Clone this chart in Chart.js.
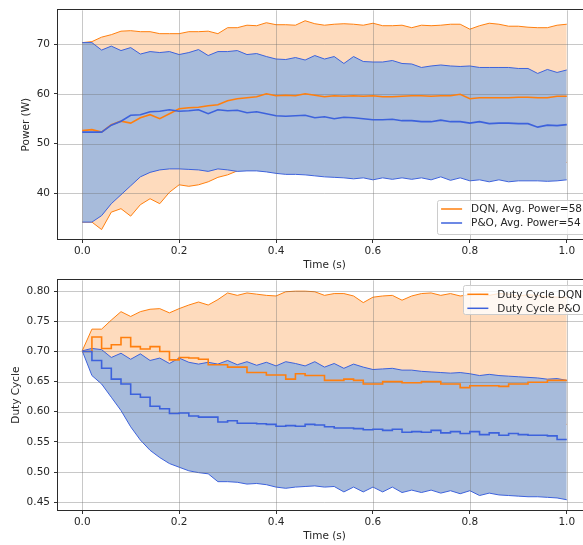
<!DOCTYPE html>
<html>
<head>
<meta charset="utf-8">
<script src="https://cdn.jsdelivr.net/npm/chart.js@4.4.1/dist/chart.umd.min.js"></script>
<style>
  html, body { margin: 0; padding: 0; overflow: hidden; background: #fff; }
  #wrap { position: relative; width: 583px; height: 545px; overflow: hidden; }
  #powerChart { position: absolute; left: 0; top: 0; }
  #dutyChart { position: absolute; left: 0; top: 270px; }
</style>
</head>
<body>
<div id="wrap">
  <canvas id="powerChart" width="600" height="276"></canvas>
  <canvas id="dutyChart" width="600" height="275"></canvas>
</div>
<script>
// time axis (s), one sample every 0.02 s
const time = [0.00, 0.02, 0.04, 0.06, 0.08, 0.10, 0.12, 0.14, 0.16, 0.18,
              0.20, 0.22, 0.24, 0.26, 0.28, 0.30, 0.32, 0.34, 0.36, 0.38,
              0.40, 0.42, 0.44, 0.46, 0.48, 0.50, 0.52, 0.54, 0.56, 0.58,
              0.60, 0.62, 0.64, 0.66, 0.68, 0.70, 0.72, 0.74, 0.76, 0.78,
              0.80, 0.82, 0.84, 0.86, 0.88, 0.90, 0.92, 0.94, 0.96, 0.98, 1.00];

// tick labels
const timeTicks = [0.0, 0.2, 0.4, 0.6, 0.8, 1.0];
const powerTicks = [40, 50, 60, 70];
const dutyTicks = [0.45, 0.50, 0.55, 0.60, 0.65, 0.70, 0.75, 0.80];

// legend labels
const powerLabels = ['DQN, Avg. Power=58', 'P&O, Avg. Power=54'];
const dutyLabels = ['Duty Cycle DQN', 'Duty Cycle P&O'];

// Power (W) - DQN
const dqnPowerMean = [52.6, 52.8, 52.3, 53.8, 54.5, 54.1, 55.2, 55.8, 55.0, 56.0,
                      57.0, 57.2, 57.3, 57.6, 57.8, 58.6, 59.0, 59.2, 59.4, 60.0,
                      59.6, 59.7, 59.6, 60.0, 59.7, 59.4, 59.6, 59.5, 59.6, 59.5,
                      59.6, 59.4, 59.4, 59.5, 59.6, 59.6, 59.5, 59.6, 59.6, 59.9,
                      59.0, 59.2, 59.2, 59.2, 59.2, 59.3, 59.3, 59.2, 59.2, 59.5, 59.5];
const dqnPowerUpper = [70.3, 70.5, 71.4, 71.9, 72.6, 72.7, 72.5, 72.5, 72.1, 72.1,
                       72.1, 72.5, 72.5, 72.6, 72.1, 73.3, 73.3, 73.8, 73.7, 74.3,
                       73.9, 73.9, 73.8, 74.7, 74.1, 73.8, 74.0, 74.1, 74.0, 73.8,
                       74.2, 73.7, 73.7, 73.8, 73.3, 73.8, 73.7, 73.8, 74.0, 74.0,
                       73.0, 73.7, 74.2, 74.0, 73.6, 73.6, 73.4, 73.3, 73.3, 73.8, 74.0];
const dqnPowerLower = [34.2, 34.2, 32.7, 36.2, 36.9, 35.4, 37.7, 38.9, 37.9, 40.2,
                       41.7, 41.4, 41.7, 42.3, 43.2, 43.7, 44.5, 45.0, 45.3, 45.6,
                       45.8, 46.0, 45.9, 46.1, 46.0, 46.2, 46.1, 46.3, 46.2, 46.0,
                       46.1, 46.3, 46.2, 46.0, 46.1, 46.2, 46.0, 46.1, 46.3, 46.2,
                       46.0, 46.1, 46.2, 46.0, 46.1, 46.0, 46.2, 46.1, 46.0, 46.1, 46.2];

// Power (W) - P&O
const poPowerMean = [52.3, 52.3, 52.3, 53.7, 54.5, 55.7, 55.8, 56.4, 56.5, 56.8,
                     56.5, 56.6, 56.8, 56.0, 56.8, 56.6, 56.7, 56.2, 56.4, 56.0,
                     55.6, 55.5, 55.6, 55.7, 55.2, 55.4, 55.0, 55.3, 55.2, 55.0,
                     54.8, 54.8, 54.9, 54.6, 54.6, 54.4, 54.4, 54.7, 54.4, 54.4,
                     54.1, 54.4, 54.0, 54.1, 54.1, 54.0, 54.0, 53.3, 53.7, 53.6, 53.8];
const poPowerUpper = [70.3, 70.3, 68.8, 69.6, 68.7, 69.3, 68.0, 68.5, 68.3, 68.5,
                      67.9, 68.3, 68.9, 67.7, 68.5, 68.5, 68.7, 67.9, 68.1, 67.5,
                      67.0, 66.9, 67.3, 66.8, 67.7, 67.0, 67.5, 66.1, 67.5, 66.5,
                      66.4, 66.4, 66.7, 66.1, 66.0, 65.3, 65.6, 65.8, 65.6, 65.5,
                      65.6, 65.3, 65.3, 65.3, 65.3, 65.1, 65.1, 64.1, 64.9, 64.3, 64.8];
const poPowerLower = [34.2, 34.2, 35.5, 37.9, 39.7, 41.5, 43.3, 44.2, 44.7, 44.9,
                      44.9, 44.8, 44.7, 44.4, 44.9, 44.7, 44.4, 44.5, 44.5, 44.3,
                      44.0, 43.8, 43.8, 43.7, 43.5, 43.3, 43.2, 43.1, 42.9, 43.1,
                      42.7, 43.1, 42.8, 43.1, 42.8, 43.1, 42.7, 43.3, 42.6, 43.1,
                      42.5, 42.7, 42.3, 42.7, 42.3, 42.5, 42.5, 42.5, 42.4, 42.5, 42.7];

// Duty cycle - DQN (mean is a step line)
const dqnDutyMean = [0.700, 0.724, 0.705, 0.711, 0.723, 0.708, 0.704, 0.708, 0.700, 0.686,
                     0.690, 0.689, 0.687, 0.678, 0.678, 0.674, 0.674, 0.665, 0.665, 0.661,
                     0.661, 0.654, 0.663, 0.660, 0.660, 0.652, 0.652, 0.654, 0.652, 0.646,
                     0.646, 0.650, 0.650, 0.648, 0.648, 0.650, 0.650, 0.646, 0.646, 0.640,
                     0.643, 0.643, 0.643, 0.642, 0.646, 0.646, 0.649, 0.649, 0.652, 0.652, 0.652];
const dqnDutyUpper = [0.701, 0.737, 0.737, 0.752, 0.766, 0.758, 0.766, 0.770, 0.771, 0.764,
                      0.771, 0.777, 0.782, 0.777, 0.786, 0.797, 0.793, 0.797, 0.795, 0.793,
                      0.792, 0.799, 0.800, 0.800, 0.799, 0.793, 0.796, 0.796, 0.792, 0.781,
                      0.790, 0.792, 0.793, 0.785, 0.792, 0.796, 0.797, 0.793, 0.796, 0.792,
                      0.794, 0.795, 0.793, 0.796, 0.795, 0.792, 0.794, 0.793, 0.791, 0.790, 0.789];
const dqnDutyLower = [0.700, 0.690, 0.678, 0.668, 0.660, 0.652, 0.645, 0.638, 0.632, 0.627,
                      0.622, 0.618, 0.614, 0.611, 0.608, 0.605, 0.603, 0.601, 0.599, 0.597,
                      0.596, 0.594, 0.593, 0.592, 0.591, 0.590, 0.589, 0.588, 0.588, 0.587,
                      0.586, 0.586, 0.585, 0.585, 0.584, 0.584, 0.583, 0.583, 0.583, 0.582,
                      0.582, 0.582, 0.581, 0.581, 0.581, 0.580, 0.580, 0.580, 0.580, 0.579, 0.579];

// Duty cycle - P&O
const poDutyMean = [0.700, 0.685, 0.672, 0.654, 0.646, 0.629, 0.624, 0.609, 0.605, 0.597,
                    0.598, 0.593, 0.591, 0.591, 0.583, 0.585, 0.581, 0.581, 0.580, 0.579,
                    0.576, 0.577, 0.576, 0.579, 0.578, 0.575, 0.573, 0.573, 0.572, 0.570,
                    0.571, 0.569, 0.571, 0.566, 0.567, 0.566, 0.569, 0.565, 0.567, 0.564,
                    0.567, 0.562, 0.565, 0.561, 0.564, 0.562, 0.561, 0.561, 0.560, 0.554, 0.554];
const poDutyUpper = [0.701, 0.705, 0.703, 0.690, 0.697, 0.687, 0.696, 0.685, 0.689, 0.680,
                     0.689, 0.682, 0.679, 0.682, 0.679, 0.685, 0.678, 0.683, 0.677, 0.682,
                     0.676, 0.683, 0.680, 0.676, 0.683, 0.674, 0.680, 0.672, 0.679, 0.674,
                     0.670, 0.671, 0.672, 0.669, 0.669, 0.667, 0.666, 0.665, 0.664, 0.665,
                     0.663, 0.660, 0.662, 0.660, 0.659, 0.658, 0.657, 0.656, 0.654, 0.655, 0.652];
const poDutyLower = [0.701, 0.660, 0.646, 0.624, 0.602, 0.575, 0.553, 0.536, 0.524, 0.514,
                     0.508, 0.502, 0.499, 0.497, 0.484, 0.484, 0.483, 0.480, 0.481, 0.479,
                     0.475, 0.473, 0.475, 0.476, 0.477, 0.475, 0.476, 0.467, 0.475, 0.467,
                     0.475, 0.467, 0.475, 0.466, 0.470, 0.466, 0.470, 0.465, 0.469, 0.464,
                     0.469, 0.461, 0.465, 0.462, 0.461, 0.460, 0.459, 0.459, 0.458, 0.457, 0.454];

const ORANGE = '#ff7f0e';
const BLUE = '#3d62dc';
const ORANGE_FILL = '#fedbbd';
const BLUE_FILL = '#a7bbdb';
const FONT = '"DejaVu Sans", sans-serif';
const FONT_SIZE = 10.5;
const TEXT = '#262626';

function pts(ys) {
    return ys.map((y, i) => ({x: time[i], y: y}));
}

// grid between the bands and the mean lines, full frame, legend in the axes
const mplLook = {
    id: 'mplLook',
    afterDatasetDraw(chart, args, opts) {
        if (args.index !== opts.gridAfter) return;
        const {ctx, chartArea: a, scales} = chart;
        ctx.save();
        ctx.strokeStyle = 'rgba(110,110,110,0.38)';
        ctx.lineWidth = 1;
        ctx.beginPath();
        scales.x.ticks.forEach(t => {
            const px = Math.round(scales.x.getPixelForValue(t.value)) + 0.5;
            ctx.moveTo(px, a.top);
            ctx.lineTo(px, a.bottom);
        });
        scales.y.ticks.forEach(t => {
            const py = Math.round(scales.y.getPixelForValue(t.value)) + 0.5;
            ctx.moveTo(a.left, py);
            ctx.lineTo(a.right, py);
        });
        ctx.stroke();
        ctx.restore();
    },
    afterDatasetsDraw(chart) {
        const {ctx, chartArea: a} = chart;
        ctx.save();
        ctx.strokeStyle = '#2b2b2b';
        ctx.lineWidth = 1;
        ctx.strokeRect(Math.round(a.left) - 0.5, Math.round(a.top) - 0.5,
                       Math.round(a.right - a.left) + 1, Math.round(a.bottom - a.top) + 1);
        ctx.restore();
    },
    afterDraw(chart, args, opts) {
        const {ctx, chartArea: a} = chart;
        const labels = opts.labels;
        ctx.save();
        ctx.font = FONT_SIZE + 'px ' + FONT;
        const textW = Math.max(...labels.map(l => ctx.measureText(l).width));
        const right = a.right - 5;
        const left = right - (34 + textW + 4);
        const h = opts.height;
        const top = opts.where === 'bottom' ? a.bottom - 5 - h : a.top + 5;
        ctx.fillStyle = 'rgba(255,255,255,0.8)';
        ctx.strokeStyle = '#cccccc';
        ctx.lineWidth = 1;
        ctx.beginPath();
        ctx.roundRect(Math.round(left) + 0.5, Math.round(top) + 0.5, right - left, h, 2);
        ctx.fill();
        ctx.stroke();
        const colors = [ORANGE, BLUE];
        labels.forEach((l, i) => {
            const y = top + 9 + i * 14;
            ctx.strokeStyle = colors[i];
            ctx.lineWidth = 1.5;
            ctx.beginPath();
            ctx.moveTo(left + 4, y);
            ctx.lineTo(left + 25, y);
            ctx.stroke();
            ctx.fillStyle = TEXT;
            ctx.textBaseline = 'middle';
            ctx.fillText(l, left + 34, y + 0.5);
        });
        ctx.restore();
    }
};

function makeChart(canvasId, s, cfg) {
    const ctx = document.getElementById(canvasId).getContext('2d');
    return new Chart(ctx, {
        type: 'line',
        data: {
            datasets: [
                // 0, 1: DQN band
                {data: pts(s.dqnUpper), borderColor: ORANGE, borderWidth: 1, fill: '+1',
                 backgroundColor: ORANGE_FILL, order: 6},
                {data: pts(s.dqnLower), borderColor: ORANGE, borderWidth: 1, fill: false, order: 5},
                // 2, 3: P&O band
                {data: pts(s.poUpper), borderColor: BLUE, borderWidth: 1, fill: '+1',
                 backgroundColor: BLUE_FILL, order: 4},
                {data: pts(s.poLower), borderColor: BLUE, borderWidth: 1, fill: false, order: 3},
                // 4, 5: means
                {data: pts(s.dqnMean), borderColor: ORANGE, borderWidth: 1.6, fill: false,
                 stepped: cfg.stepped, order: 2},
                {data: pts(s.poMean), borderColor: BLUE, borderWidth: 1.6, fill: false,
                 stepped: cfg.stepped, order: 1}
            ]
        },
        options: {
            responsive: false,
            animation: false,
            elements: {point: {radius: 0}, line: {tension: 0}},
            layout: {padding: {left: cfg.padLeft, top: cfg.padTop, right: 9, bottom: 0}},
            plugins: {
                legend: {display: false},
                tooltip: {enabled: false},
                filler: {drawTime: 'beforeDatasetDraw'},
                mplLook: {gridAfter: 3, labels: cfg.labels, where: cfg.legendWhere,
                          height: cfg.legendHeight}
            },
            scales: {
                x: {
                    type: 'linear',
                    min: -0.05,
                    max: 1.05,
                    afterBuildTicks: sc => { sc.ticks = timeTicks.map(v => ({value: v})); },
                    afterFit: sc => { sc.height = cfg.xHeight; },
                    grid: {drawOnChartArea: false, tickLength: 4, tickColor: '#333'},
                    border: {display: false},
                    ticks: {color: TEXT, font: {family: FONT, size: FONT_SIZE}, padding: 2,
                            maxRotation: 0, callback: v => v.toFixed(1)},
                    title: {display: true, text: 'Time (s)', color: TEXT,
                            font: {family: FONT, size: FONT_SIZE},
                            padding: {top: 0, bottom: cfg.xTitlePad}}
                },
                y: {
                    type: 'linear',
                    min: cfg.yMin,
                    max: cfg.yMax,
                    afterBuildTicks: sc => { sc.ticks = cfg.yTicks.map(v => ({value: v})); },
                    afterFit: sc => { sc.width = cfg.yWidth; },
                    grid: {drawOnChartArea: false, tickLength: 4, tickColor: '#333'},
                    border: {display: false},
                    ticks: {color: TEXT, font: {family: FONT, size: FONT_SIZE}, padding: 4,
                            callback: v => v.toFixed(cfg.yDecimals)},
                    title: {display: true, text: cfg.yTitle, color: TEXT,
                            font: {family: FONT, size: FONT_SIZE},
                            padding: {top: 4, bottom: 4}}
                }
            }
        },
        plugins: [mplLook]
    });
}

makeChart('powerChart',
    {dqnUpper: dqnPowerUpper, dqnLower: dqnPowerLower, poUpper: poPowerUpper,
     poLower: poPowerLower, dqnMean: dqnPowerMean, poMean: poPowerMean},
    {stepped: false, padLeft: 16, padTop: 8, yWidth: 42, xHeight: 37, xTitlePad: 4,
     yMin: 30.8, yMax: 76.8, yTicks: powerTicks, yDecimals: 0, yTitle: 'Power (W)',
     labels: powerLabels, legendWhere: 'bottom', legendHeight: 34});

makeChart('dutyChart',
    {dqnUpper: dqnDutyUpper, dqnLower: dqnDutyLower, poUpper: poDutyUpper,
     poLower: poDutyLower, dqnMean: dqnDutyMean, poMean: poDutyMean},
    {stepped: 'before', padLeft: 6, padTop: 9, yWidth: 52, xHeight: 35, xTitlePad: 2,
     yMin: 0.437, yMax: 0.818, yTicks: dutyTicks, yDecimals: 2, yTitle: 'Duty Cycle',
     labels: dutyLabels, legendWhere: 'top', legendHeight: 29});
</script>
</body>
</html>
